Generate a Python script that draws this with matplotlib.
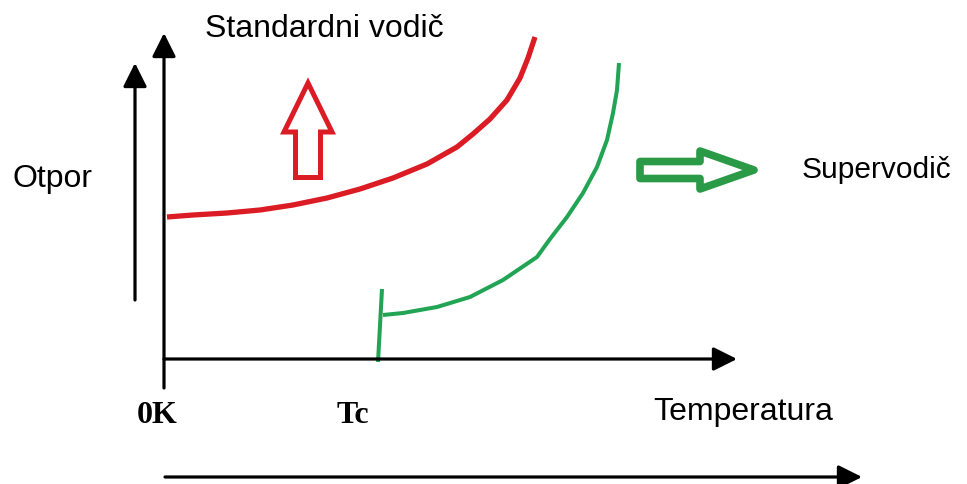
import matplotlib
matplotlib.use("Agg")
import matplotlib.pyplot as plt
from matplotlib.patches import FancyArrow

# krivulje otpora (temperatura od 0K, otpor od nule) ocitane sa slike
standard_temp = [3, 29, 63, 96, 129, 163, 196, 229, 263, 293, 309, 326, 343, 356, 364, 369, 371]
standard_otpor = [142, 144, 146, 149, 154, 161, 170, 181, 195, 212, 225, 240, 259, 281, 301, 316, 322]

super_temp = [219, 239, 273, 306, 339, 373, 386, 403, 419, 433, 443, 449, 453, 455]
super_otpor = [44, 46, 52, 62, 79, 102, 120, 142, 166, 192, 219, 246, 269, 296]

# skok kod kriticne temperature
tc_temp = [214, 218]
tc_otpor = [-3, 70]

oznake_osi = ["0K", "Tc"]
naslov_standard = "Standardni vodič"
naslov_super = "Supervodič"
os_y = "Otpor"
os_x = "Temperatura"

crvena = "#dc1c24"
zelena = "#22a455"
zelena_strelica = "#2b9a47"

fig = plt.figure(figsize=(9.67, 4.84), dpi=100)
ax = fig.add_axes([0, 0, 1, 1])
ax.set_xlim(-164, 803)
ax.set_ylim(-125, 359)
ax.axis("off")

# osi sa strelicama
def strelica(x0, y0, x1, y1):
    ax.annotate("", xy=(x1, y1), xytext=(x0, y0),
                arrowprops=dict(arrowstyle="-|>,head_length=0.72,head_width=0.36",
                                mutation_scale=20, lw=2.3, color="black",
                                shrinkA=0, shrinkB=0))

strelica(0, -29, 0, 326)        # glavna y os
strelica(-29, 59, -29, 296)     # pomocna strelica otpora
strelica(0, 0, 573, 0)          # x os
strelica(1, -118, 698, -118)    # donja strelica temperature

ax.plot(standard_temp, standard_otpor, color=crvena, lw=3.8,
        solid_capstyle="butt", solid_joinstyle="round")
ax.plot(super_temp, super_otpor, color=zelena, lw=2.9,
        solid_capstyle="butt", solid_joinstyle="round")
ax.plot(tc_temp, tc_otpor, color=zelena, lw=2.9, solid_capstyle="butt")

# crvena supljia strelica prema gore
ax.add_patch(FancyArrow(144, 181.5, 0, 94.5, width=25, head_width=48, head_length=49,
                        length_includes_head=True, facecolor="white",
                        edgecolor=crvena, lw=3.6, joinstyle="miter"))
# zelena strelica udesno
ax.add_patch(FancyArrow(476, 189, 114, 0, width=17, head_width=38, head_length=54,
                        length_includes_head=True, facecolor="white",
                        edgecolor=zelena_strelica, lw=5.5, joinstyle="round"))

tekst = dict(family="Liberation Sans", fontsize=23, color="black", va="baseline")
ax.text(41, 322, naslov_standard, ha="left", **tekst)
ax.text(-151, 172, os_y, ha="left", **tekst)
ax.text(638, 181, naslov_super, ha="left", **{**tekst, "fontsize": 21.5})
ax.text(489, -61, os_x, ha="left", **tekst)

serif = dict(family="Liberation Serif", fontweight="bold", fontsize=23, va="baseline")
ax.text(-7, -64, oznake_osi[0], ha="center", **serif)
ax.text(173, -64, oznake_osi[1], ha="left", **serif)

fig.savefig("out.png", dpi=100)
